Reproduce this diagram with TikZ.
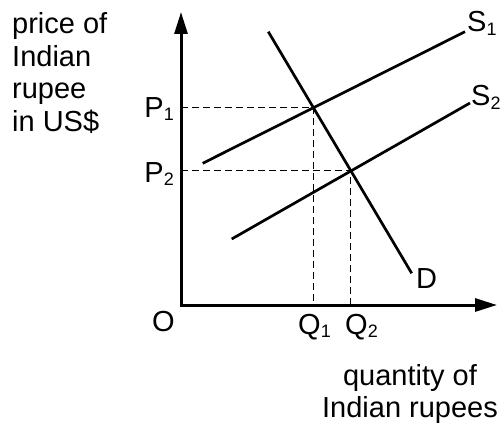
\documentclass[tikz,border=0pt]{standalone}
\usepackage{fontspec}
\setmainfont{Liberation Sans}
\usetikzlibrary{arrows.meta,intersections}
\newcommand{\lowidx}[1]{\raisebox{-3.5pt}{\fontsize{18}{18}\selectfont #1}}
\begin{document}
\begin{tikzpicture}[x=1pt,y=-1pt,
  font=\fontsize{29}{32.5}\selectfont,
  axis/.style={line width=3pt, line join=miter,
    {Triangle[length=22pt,width=13pt]}-{Triangle[length=22pt,width=13pt]}},
  curve/.style={line width=2.7pt},
  guide/.style={line width=1pt, dash pattern=on 7pt off 4pt},
  lbl/.style={inner sep=0pt}]
\useasboundingbox (0,0) rectangle (502,425);
\coordinate (ytop) at (181,12);
\coordinate (O) at (181,305);
\coordinate (xend) at (497,305);
\coordinate (s1a) at (202.7,163.3);
\coordinate (s1b) at (465,31.7);
\coordinate (s2a) at (231.7,239);
\coordinate (s2b) at (470,103);
\coordinate (da) at (268.3,31.7);
\coordinate (db) at (411.7,273.3);
\path[name path=ps1] (s1a) -- (s1b);
\path[name path=ps2] (s2a) -- (s2b);
\path[name path=pd] (da) -- (db);
\path[name intersections={of=ps1 and pd, by=e1}];
\path[name intersections={of=ps2 and pd, by=e2}];
\draw[guide] (O |- e1) -- (e1) -- (e1 |- O);
\draw[guide] (O |- e2) -- (e2) -- (e2 |- O);
\draw[curve] (s1a) -- (s1b);
\draw[curve] (s2a) -- (s2b);
\draw[curve] (da) -- (db);
\draw[axis] (ytop) -- (O) -- (xend);
\node[lbl, anchor=north west, align=left] (ylab) at (12,12.5) {price of\\Indian\\rupee\\in US\$};
\node[lbl, anchor=north, align=center] (xlab) at (410,364) {quantity of\\Indian rupees};
\node[lbl, anchor=base east] (p1) at (174,117) {P\lowidx{1}};
\node[lbl, anchor=base east] (p2) at (174,182) {P\lowidx{2}};
\node[lbl, anchor=base west] (olab) at (152,331.5) {O};
\node[lbl, anchor=base west] (q1) at (298,334) {Q\lowidx{1}};
\node[lbl, anchor=base west] (q2) at (345,334) {Q\lowidx{2}};
\node[lbl, anchor=base west] (s1lab) at (467,32) {S\lowidx{1}};
\node[lbl, anchor=base west] (s2lab) at (471,106) {S\lowidx{2}};
\node[lbl, anchor=base west] (dlab) at (416,288) {D};
\end{tikzpicture}
\end{document}
